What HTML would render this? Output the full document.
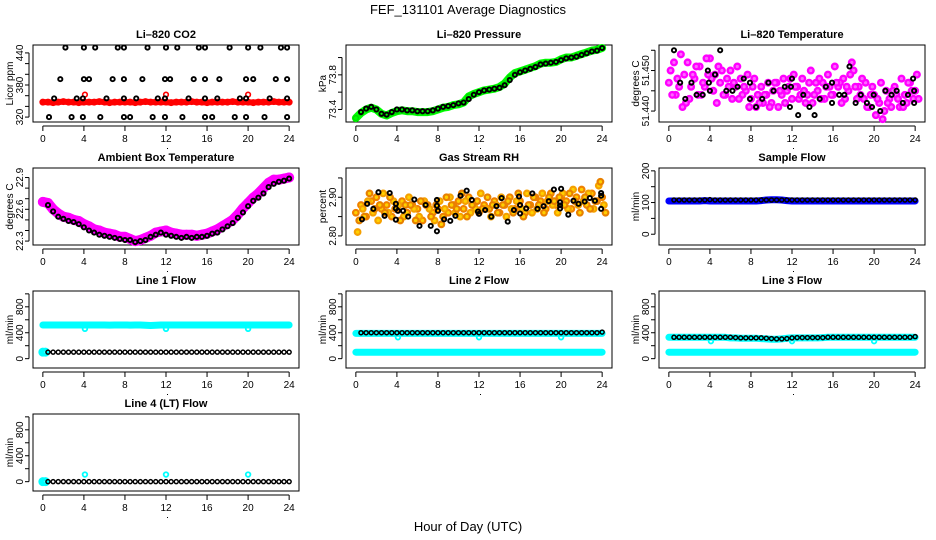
<!DOCTYPE html>
<html><head><meta charset="utf-8">
<style>
html,body{margin:0;padding:0;background:#fff;}
svg{display:block;font-family:"Liberation Sans",sans-serif;}
</style></head>
<body>
<svg id="chart" width="936" height="540" viewBox="0 0 936 540" xmlns="http://www.w3.org/2000/svg">
<rect x="0" y="0" width="936" height="540" fill="#fff"/>
<text x="468" y="14" text-anchor="middle" font-size="13">FEF_131101  Average Diagnostics</text>
<text x="468" y="531" text-anchor="middle" font-size="13">Hour of Day (UTC)</text>
</svg>
<script>
// ---------- data ----------
const xTicks = [0,4,8,12,16,20,24];
const DENSE_STEP = 0.5;
const BLACK_START = 0.5;

// CO2
const co2BlackHours = [2.2,4,5.1,7.3,7.9,10.2,12,13.1,15.2,15.8,18.2,20,21.2,23.2,23.8,
 1.7,4,4.5,6.8,7.9,9.7,11.9,12.4,14.7,15.8,17.2,19.8,20.5,22.7,23.8,
 1.1,3.3,3.9,6.2,7.9,9.1,11.2,11.9,14.2,15.8,17,19.2,19.8,22.1,23.8,
 0.6,2.8,3.9,5.6,7.9,8.5,10.7,11.9,13.6,15.8,16.5,18.7,19.8,21.6,23.8];
const co2BlackVals = [450,450,450,450,450,450,450,450,450,450,450,450,450,450,450,
 391,391,391,391,391,391,391,391,391,391,391,391,391,391,391,
 355,355,355,355,355,355,355,355,355,355,355,355,355,355,355,
 320,320,320,320,320,320,320,320,320,320,320,320,320,320,320];
const co2Red = [348,348,347,348,349,348,348,347,348,348,348,349,348,347,348,348,348,348,347,348,349,348,348,348,348,347,348,348,348,349,348,348,347,348,348,348,348,349,348,348,348,347,348,348,348,349,348,348,348];
const co2RedOutHours = [4.1,12,20];
const co2RedOutVals = [362,362,362];

// Pressure
const presGreen = [73.30,73.36,73.40,73.42,73.40,73.35,73.33,73.36,73.38,73.39,73.38,73.38,73.37,73.37,73.37,73.38,73.40,73.42,73.43,73.45,73.46,73.48,73.55,73.58,73.60,73.62,73.63,73.64,73.66,73.70,73.77,73.82,73.84,73.86,73.88,73.90,73.93,73.94,73.94,73.95,73.98,74.00,74.00,74.02,74.04,74.06,74.08,74.09,74.11];
const presBlack = [73.37,73.41,73.43,73.40,73.35,73.34,73.37,73.40,73.40,73.39,73.39,73.38,73.38,73.38,73.39,73.41,73.43,73.44,73.45,73.47,73.48,73.52,73.57,73.60,73.62,73.63,73.64,73.65,73.68,73.74,73.80,73.83,73.85,73.87,73.89,73.92,73.93,73.94,73.95,73.97,73.99,74.00,74.01,74.03,74.05,74.07,74.08,74.11];

// Li-820 Temperature
const tempMagA = [51.447,51.452,51.446,51.449,51.443,51.448,51.451,51.446,51.453,51.449,51.447,51.444,51.450,51.446,51.448,51.445,51.443,51.441,51.446,51.444,51.442,51.447,51.444,51.445,51.443,51.446,51.448,51.444,51.442,51.445,51.447,51.449,51.444,51.446,51.448,51.445,51.450,51.446,51.443,51.441,51.444,51.442,51.440,51.443,51.446,51.441,51.444,51.447,51.445];
const tempMagB = [51.450,51.444,51.454,51.442,51.446,51.451,51.444,51.453,51.448,51.442,51.450,51.448,51.443,51.451,51.444,51.449,51.446,51.444,51.442,51.447,51.445,51.441,51.448,51.446,51.449,51.443,51.445,51.447,51.444,51.448,51.443,51.446,51.451,51.447,51.443,51.449,51.446,51.444,51.447,51.444,51.439,51.447,51.445,51.441,51.444,51.448,51.442,51.445,51.449];
const tempMagC = [51.444,51.448,51.441,51.452,51.449,51.444,51.447,51.449,51.445,51.451,51.444,51.446,51.447,51.443,51.446,51.441,51.448,51.442,51.444,51.441,51.447,51.445,51.442,51.448,51.446,51.444,51.442,51.450,51.447,51.443,51.446,51.444,51.447,51.442,51.446,51.452,51.443,51.448,51.441,51.446,51.443,51.438,51.442,51.445,51.443,51.441,51.447,51.443,51.443];
const tempBlackHours = [0.5,1.1,1.6,2.2,2.7,3.3,3.8,3.9,4,4.5,5,5.6,6.2,6.7,7.3,7.9,7.9,8.5,9.1,9.7,10.2,11.3,11.8,11.9,12,12.6,13.1,13.7,14.2,14.7,15.3,15.9,15.9,16.6,17.1,17.6,18.2,18.7,19.3,19.8,19.96,20.6,21.1,21.7,22.2,22.8,23.3,23.8,23.9,23.9];
const tempBlackVals = [51.455,51.447,51.443,51.447,51.444,51.444,51.450,51.447,51.445,51.449,51.455,51.445,51.445,51.446,51.448,51.447,51.443,51.441,51.443,51.447,51.445,51.446,51.441,51.446,51.448,51.439,51.444,51.441,51.439,51.443,51.446,51.447,51.442,51.444,51.444,51.451,51.442,51.444,51.442,51.441,51.444,51.440,51.445,51.444,51.445,51.442,51.444,51.448,51.445,51.442];

// Ambient box temperature
const boxMag = [22.67,22.66,22.60,22.56,22.53,22.52,22.50,22.49,22.46,22.44,22.41,22.40,22.38,22.37,22.36,22.34,22.34,22.32,22.30,22.31,22.33,22.35,22.38,22.39,22.40,22.38,22.37,22.36,22.36,22.36,22.35,22.36,22.37,22.39,22.41,22.44,22.47,22.50,22.55,22.61,22.66,22.71,22.75,22.80,22.85,22.88,22.88,22.89,22.90];
const boxBlack = [22.64,22.58,22.53,22.51,22.49,22.48,22.46,22.43,22.40,22.38,22.36,22.35,22.34,22.33,22.32,22.31,22.31,22.29,22.30,22.31,22.34,22.36,22.38,22.36,22.35,22.34,22.33,22.34,22.33,22.34,22.34,22.35,22.37,22.38,22.41,22.44,22.47,22.52,22.57,22.63,22.68,22.71,22.75,22.81,22.84,22.86,22.87,22.89];

// Gas stream RH
const rhOrangeA = [2.86,2.88,2.85,2.89,2.90,2.87,2.88,2.85,2.87,2.89,2.86,2.88,2.87,2.84,2.88,2.86,2.87,2.85,2.86,2.88,2.89,2.87,2.90,2.88,2.86,2.88,2.87,2.89,2.86,2.88,2.90,2.87,2.89,2.86,2.88,2.90,2.89,2.87,2.91,2.88,2.90,2.89,2.87,2.90,2.92,2.88,2.91,2.89,2.90];
const rhOrangeB = [2.81,2.87,2.89,2.86,2.84,2.91,2.86,2.89,2.88,2.85,2.90,2.87,2.85,2.89,2.87,2.84,2.89,2.87,2.90,2.86,2.85,2.89,2.86,2.87,2.91,2.87,2.85,2.88,2.90,2.85,2.87,2.89,2.87,2.91,2.86,2.87,2.91,2.89,2.88,2.86,2.91,2.87,2.92,2.88,2.89,2.91,2.87,2.93,2.88];
const rhOrangeC = [2.84,2.85,2.91,2.87,2.88,2.86,2.90,2.87,2.84,2.88,2.88,2.84,2.89,2.88,2.85,2.88,2.83,2.90,2.88,2.87,2.91,2.85,2.88,2.89,2.87,2.90,2.88,2.86,2.88,2.89,2.86,2.91,2.85,2.88,2.90,2.88,2.86,2.90,2.89,2.90,2.88,2.91,2.89,2.86,2.90,2.87,2.89,2.94,2.86];
const rhBlackHours = [0.6,1.1,1.7,2.2,2.8,3.3,3.9,3.9,3.9,4.1,4.6,5.1,5.7,6.2,6.8,7.3,7.9,7.9,7.9,8,8.6,9.2,9.7,10.2,10.8,11.3,11.9,12,12.6,13.2,13.7,14.2,14.8,15.4,15.9,16,16,16.6,17.2,17.7,18.3,18.8,19.3,19.9,19.9,19.9,20,20.7,21.2,21.7,22.3,22.8,23.3,23.9,23.9,23.9];
const rhBlackVals = [2.843,2.883,2.870,2.913,2.852,2.911,2.883,2.871,2.842,2.865,2.865,2.850,2.894,2.826,2.880,2.826,2.893,2.878,2.812,2.865,2.843,2.839,2.852,2.904,2.917,2.893,2.863,2.857,2.867,2.850,2.877,2.898,2.837,2.867,2.902,2.880,2.858,2.871,2.910,2.870,2.877,2.890,2.920,2.887,2.879,2.871,2.922,2.855,2.891,2.883,2.889,2.898,2.891,2.870,2.904,2.911];

// Sample flow
const sampleBlue = [105,105,105,105,105,105,105,106,105,105,105,105,105,105,105,105,105,105,106,108,109,109,108,106,105,105,105,105,105,105,105,105,105,105,105,105,105,105,105,105,105,105,105,105,105,105,105,105,105];
const sampleBlack = [108,108,108,108,108,108,108,109,108,108,108,108,108,108,108,108,108,108,108,108,108,108,108,108,108,108,108,108,108,108,108,108,108,108,108,108,108,108,108,108,108,108,108,108,108,108,108,108];

// Line flows
const line1CyanHigh = [520,520,520,520,520,520,520,520,520,520,520,520,520,518,520,520,520,518,520,520,515,512,515,520,520,520,520,520,520,520,520,520,520,520,520,520,520,520,520,520,520,520,520,520,520,520,520,520,520];
const line1CyanLowHours = [0,0.25];
const line1CyanLowVals = [100,100];
const line1Black = [100,100,100,100,100,100,100,100,100,100,100,100,100,100,100,100,100,100,100,100,100,100,100,100,100,100,100,100,100,100,100,100,100,100,100,100,100,100,100,100,100,100,100,100,100,100,100,100];
const line1OutHours = [4.1,12,20];
const line1OutVals = [460,460,460];

const line2CyanHigh = [390,390,390,390,390,390,390,390,390,390,390,390,390,390,390,390,390,390,390,390,390,390,390,390,390,390,390,390,390,390,390,390,390,390,390,390,390,390,390,390,390,390,390,390,390,390,390,390,390];
const line2CyanLow = [100,100,100,100,100,100,100,100,100,100,100,100,100,100,100,100,100,100,100,100,100,100,100,100,100,100,100,100,100,100,100,100,100,100,100,100,100,100,100,100,100,100,100,100,100,100,100,100,100];
const line2Black = [400,400,400,400,400,400,400,400,400,400,400,400,400,400,400,400,400,400,400,400,400,400,400,400,400,400,400,400,400,400,400,400,400,400,400,400,400,400,400,400,400,400,400,400,400,400,400,410];
const line2OutHours = [4.1,12,20];
const line2OutVals = [330,330,330];

const line3CyanHigh = [330,330,330,330,330,330,330,330,330,330,330,330,320,320,315,315,315,315,310,305,300,300,305,315,320,320,320,320,320,320,325,330,330,330,330,330,330,330,330,330,330,330,330,330,330,330,330,330,330];
const line3CyanLow = [100,100,100,100,100,100,100,100,100,100,100,100,100,100,100,100,100,100,100,100,100,100,100,100,100,100,100,100,100,100,100,100,100,100,100,100,100,100,100,100,100,100,100,100,100,100,100,100,100];
const line3Black = [330,330,330,330,330,330,330,330,330,330,330,330,325,320,320,320,320,320,315,310,305,305,310,320,325,325,325,325,325,325,330,330,330,330,330,330,330,330,330,330,330,330,330,330,330,330,330,340];
const line3OutHours = [4.1,12,20];
const line3OutVals = [270,270,270];

const line4CyanHours = [0,0.25];
const line4CyanVals = [0,0];
const line4Black = [0,0,0,0,0,0,0,0,0,0,0,0,0,0,0,0,0,0,0,0,0,0,0,0,0,0,0,0,0,0,0,0,0,0,0,0,0,0,0,0,0,0,0,0,0,0,0,0];
const line4OutHours = [4.1,12,20];
const line4OutVals = [110,110,110];

// axis ticks / labels
const co2Ticks = [320,340,360,380,400,420,440];
const co2Labels = [320,380,440];
const presTicks = [73.4,73.6,73.8,74.0];
const presLabels = ["73.4","73.8"];
const tempTicks = [51.440,51.445,51.450,51.455];
const tempLabels = ["51.440","51.450"];
const boxTicks = [22.3,22.4,22.5,22.6,22.7,22.8,22.9];
const boxLabels = ["22.3","22.6","22.9"];
const rhTicks = [2.80,2.85,2.90,2.95];
const rhLabels = ["2.80","2.90"];
const sampleTicks = [0,50,100,150,200];
const sampleLabels = [0,100,200];
const flowTicks = [0,200,400,600,800,1000];
const flowLabels = [0,400,800];

// ---------- drawing ----------
const NS = "http://www.w3.org/2000/svg";
const svg = document.getElementById('chart');
const COLX = [33,346,659], ROWY = [45,168,291,414], PW = 266, PH = 77;
function mk(tag, attrs, parent){
  const e = document.createElementNS(NS, tag);
  for (const k in attrs) e.setAttribute(k, attrs[k]);
  (parent||svg).appendChild(e);
  return e;
}
function panel(col,row,name,title,ylab,ymin,ymax,ticks,labels){
  const L = COLX[col], T = ROWY[row];
  const g = mk('g',{});
  
  
  const xs = h => L + (h+0.96)/25.92*PW;
  const ys = v => T + (ymax - v)/(ymax - ymin)*PH;
  const box = mk('rect',{x:L,y:T,width:PW,height:PH,fill:'none',stroke:'#000','stroke-width':1},g);
  
  
  const t = mk('text',{x:L+PW/2,y:T-7,'text-anchor':'middle','font-size':11,'font-weight':'bold'},g);
  t.textContent = title;
  
  
  const yl = mk('text',{transform:`translate(${L-20},${T+PH/2}) rotate(-90)`,'text-anchor':'middle','font-size':10},g);
  yl.textContent = ylab;
  
  
  const xa = mk('line',{x1:xs(xTicks[0]),x2:xs(xTicks[xTicks.length-1]),y1:T+PH+4,y2:T+PH+4,stroke:'#000'},g);
  
  
  xTicks.forEach(h=>{
    const tk = mk('line',{x1:xs(h),x2:xs(h),y1:T+PH+4,y2:T+PH+9,stroke:'#000'},g);
    
    
    const tl = mk('text',{x:xs(h),y:T+PH+20,'text-anchor':'middle','font-size':10},g);
    tl.textContent = h;
    
    
  });
  const dot = mk('rect',{x:xs(12)+1,y:T+PH+26,width:1,height:1,fill:'#000'},g);
  
  
  const ya = mk('line',{x1:L-4,x2:L-4,y1:ys(ticks[0]),y2:ys(ticks[ticks.length-1]),stroke:'#000'},g);
  
  
  ticks.forEach(v=>{
    const tk = mk('line',{x1:L-4,x2:L-8,y1:ys(v),y2:ys(v),stroke:'#000'},g);
    
    
  });
  labels.forEach(v=>{
    const tl = mk('text',{transform:`translate(${L-10},${ys(Number(v))}) rotate(-90)`,'text-anchor':'middle','font-size':10},g);
    tl.textContent = v;
    
    
  });
  return {xs, ys, g, name};
}
function series(P, hours, vals, color, r, sw, sname, fill){
  const g = mk('g',{},P.g);
  
  
  vals.forEach((v,i)=>{
    const c = mk('circle',{cx:P.xs(hours[i]),cy:P.ys(v),r:r,fill:fill||'none',stroke:color,'stroke-width':sw},g);
    
    
  });
}
function band(P, hours, vals, color, w, sname){
  const pts = vals.map((v,i)=>P.xs(hours[i]).toFixed(1)+','+P.ys(v).toFixed(1)).join(' ');
  const pl = mk('polyline',{points:pts,fill:'none',stroke:color,'stroke-width':w,'stroke-linejoin':'round','stroke-linecap':'round'},P.g);
  
  
}
const denseHours = arr => arr.map((_,i)=>i*DENSE_STEP);
const blackHours = arr => arr.map((_,i)=>BLACK_START + i*DENSE_STEP);
const BR = 2.1, BW = 1.9;

// Panel 1: CO2
let P = panel(0,0,'co2','Li\u2013820 CO2','Licor ppm',310.8,454.8,co2Ticks,co2Labels);
band(P, denseHours(co2Red), co2Red, '#ff0000', 6, 'red');
series(P, denseHours(co2Red), co2Red, '#ff0000', 2.4, 2.2, 'red');
series(P, co2RedOutHours, co2RedOutVals, '#ff0000', 2.3, 1.6, 'red-outlier');
series(P, co2BlackHours, co2BlackVals, '#000', BR, BW, 'black');

// Panel 2: Pressure
P = panel(1,0,'pressure','Li\u2013820 Pressure','kPa',73.255,74.145,presTicks,presLabels);
band(P, denseHours(presGreen), presGreen, '#00ff00', 8, 'green');
series(P, denseHours(presGreen), presGreen, '#00dd00', 2.5, 1.5, 'green');
series(P, blackHours(presBlack), presBlack, '#000', BR, BW, 'black');

// Panel 3: Temperature
P = panel(2,0,'li820-temp','Li\u2013820 Temperature','degrees C',51.4373,51.4563,tempTicks,tempLabels);
series(P, denseHours(tempMagA), tempMagA, '#ff00ff', 2.8, 2.4, 'magenta-a', '#ff66ff');
series(P, denseHours(tempMagB).map(h=>h+0.17), tempMagB, '#ff00ff', 2.8, 2.4, 'magenta-b', '#ff66ff');
series(P, denseHours(tempMagC).map(h=>h+0.33), tempMagC, '#ff00ff', 2.8, 2.4, 'magenta-c', '#ff66ff');
series(P, tempBlackHours, tempBlackVals, '#000', BR, BW, 'black');

// Panel 4: Ambient box temperature
P = panel(0,1,'box-temp','Ambient Box Temperature','degrees C',22.263,22.99,boxTicks,boxLabels);
band(P, denseHours(boxMag), boxMag, '#ff00ff', 10, 'magenta');
series(P, denseHours(boxMag), boxMag, '#ff00ff', 3.5, 3, 'magenta');
series(P, blackHours(boxBlack), boxBlack, '#000', BR, BW, 'black');

// Panel 5: Gas stream RH
P = panel(1,1,'gas-rh','Gas Stream RH','percent',2.7765,2.9757,rhTicks,rhLabels);
series(P, denseHours(rhOrangeA), rhOrangeA, '#f08000', 2.8, 2.2, 'orange-a', '#ffd000');
series(P, denseHours(rhOrangeB).map(h=>h+0.17), rhOrangeB, '#f5a000', 2.8, 2.2, 'orange-b', '#ffd000');
series(P, denseHours(rhOrangeC).map(h=>h+0.33), rhOrangeC, '#e88000', 2.8, 2.2, 'orange-c', '#ffd000');
series(P, rhBlackHours, rhBlackVals, '#000', BR, BW, 'black');

// Panel 6: Sample flow
P = panel(2,1,'sample-flow','Sample Flow','ml/min',-34,209,sampleTicks,sampleLabels);
band(P, denseHours(sampleBlue), sampleBlue, '#0000ff', 7, 'blue');
series(P, blackHours(sampleBlack), sampleBlack, '#000', 2, 1.5, 'black');

// Panel 7: Line 1
P = panel(0,2,'line1-flow','Line 1 Flow','ml/min',-144,1044,flowTicks,flowLabels);
band(P, denseHours(line1CyanHigh), line1CyanHigh, '#00ffff', 7, 'cyan-high');
series(P, line1CyanLowHours, line1CyanLowVals, '#00ffff', 3, 3, 'cyan-low');
series(P, line1OutHours, line1OutVals, '#00ffff', 2.3, 1.8, 'cyan-outlier');
series(P, blackHours(line1Black), line1Black, '#000', 2, 1.5, 'black');

// Panel 8: Line 2
P = panel(1,2,'line2-flow','Line 2 Flow','ml/min',-144,1044,flowTicks,flowLabels);
band(P, denseHours(line2CyanHigh), line2CyanHigh, '#00ffff', 7, 'cyan-high');
band(P, denseHours(line2CyanLow), line2CyanLow, '#00ffff', 7, 'cyan-low');
series(P, line2OutHours, line2OutVals, '#00ffff', 2.3, 1.8, 'cyan-outlier');
series(P, blackHours(line2Black), line2Black, '#000', 2, 1.5, 'black');

// Panel 9: Line 3
P = panel(2,2,'line3-flow','Line 3 Flow','ml/min',-144,1044,flowTicks,flowLabels);
band(P, denseHours(line3CyanHigh), line3CyanHigh, '#00ffff', 7, 'cyan-high');
band(P, denseHours(line3CyanLow), line3CyanLow, '#00ffff', 7, 'cyan-low');
series(P, line3OutHours, line3OutVals, '#00ffff', 2.3, 1.8, 'cyan-outlier');
series(P, blackHours(line3Black), line3Black, '#000', 2, 1.5, 'black');

// Panel 10: Line 4
P = panel(0,3,'line4-flow','Line 4 (LT) Flow','ml/min',-144,1044,flowTicks,flowLabels);
series(P, line4CyanHours, line4CyanVals, '#00ffff', 3, 3, 'cyan');
series(P, line4OutHours, line4OutVals, '#00ffff', 2.3, 1.8, 'cyan-outlier');
series(P, blackHours(line4Black), line4Black, '#000', 2, 1.5, 'black');
</script>
</body></html>
